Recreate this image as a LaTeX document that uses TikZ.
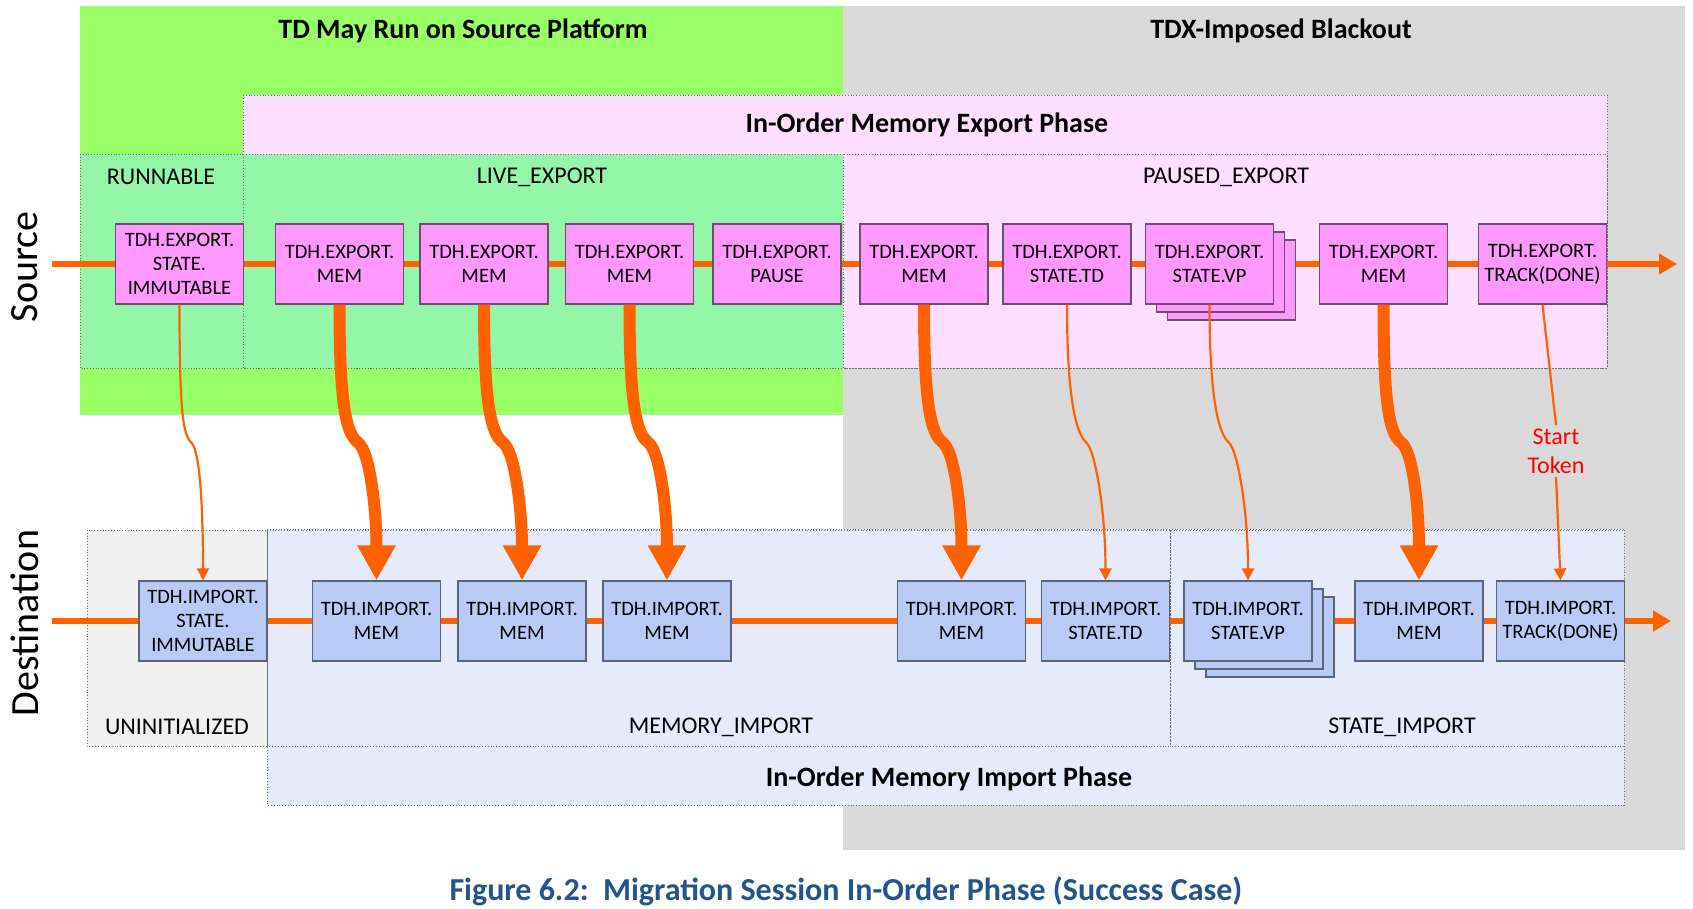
\documentclass[tikz,border=0pt]{standalone}
\usepackage{fontspec}
\setmainfont{Carlito}
\usetikzlibrary{positioning,calc,arrows.meta,shadows}
\definecolor{rungreen}{HTML}{99FF66}
\definecolor{livegreen}{HTML}{93F6A9}
\definecolor{blackout}{HTML}{D9D9D9}
\definecolor{exppink}{HTML}{FFDFFF}
\definecolor{impblue}{HTML}{E5EBFA}
\definecolor{uninit}{HTML}{F0F0F0}
\definecolor{expfill}{HTML}{FF99FF}
\definecolor{expline}{HTML}{6E4E6E}
\definecolor{impfill}{HTML}{B9CBF5}
\definecolor{impline}{HTML}{5A6478}
\definecolor{flowc}{HTML}{FF6000}
\definecolor{capblue}{HTML}{24548F}
\pgfdeclarelayer{zones}
\pgfdeclarelayer{wires}
\pgfsetlayers{zones,wires,main}

\begin{document}
\begin{tikzpicture}[x=1pt,y=-1pt,
   zone/.style={draw=black!55,dotted,line width=0.8pt},
   expbox/.style={draw=expline,fill=expfill,line width=1.2pt,minimum width=128pt,minimum height=80pt,inner sep=0pt,align=center,font=\fontsize{20.5}{24}\selectfont},
   impbox/.style={expbox,draw=impline,fill=impfill},
   stack/.style={copy shadow={shadow xshift=22pt,shadow yshift=-16pt},copy shadow={shadow xshift=11pt,shadow yshift=-8pt}},
   flow/.style={draw=flowc,line width=6.5pt},
   hop/.style={draw=flowc,line width=2.2pt,-{Triangle[width=12pt,length=12pt]}},
   bighop/.style={draw=flowc,line width=12pt,-{Triangle[width=36pt,length=35pt]}},
   zonelabel/.style={font=\fontsize{24}{28}\selectfont},
   title/.style={font=\bfseries\fontsize{28}{32}\selectfont}]
 \useasboundingbox (0,0) rectangle (1693,909);
 % background zones
 \begin{pgfonlayer}{zones}
  \fill[rungreen] (80,6) rectangle (843,415);
  \fill[blackout] (843,6) rectangle (1685,850);
  \filldraw[fill=exppink,zone] (243,95) rectangle (1607,368);
  \filldraw[fill=livegreen,zone] (80,154) rectangle (243,368);
  \filldraw[fill=livegreen,zone] (243,154) rectangle (843,368);
  \filldraw[fill=exppink,zone] (843,154) rectangle (1607,368);
  \filldraw[fill=impblue,zone] (267,529) rectangle (1624,805);
  \filldraw[fill=uninit,zone] (87,530) rectangle (267,746);
  \draw[zone] (267,530) rectangle (1170,746);
  \draw[zone] (1170,530) rectangle (1624,746);
 \end{pgfonlayer}
 \node[title] (runtitle) at (463,31) {TD May Run on Source Platform};
 \node[title] (blacktitle) at (1281,31) {TDX-Imposed Blackout};
 \node[title] (exptitle) at (927,125) {In-Order Memory Export Phase};
 \node[title] (imptitle) at (949,779) {In-Order Memory Import Phase};
 \node[zonelabel] (runl) at (161,177) {RUNNABLE};
 \node[zonelabel] (livel) at (542,177) {LIVE\_EXPORT};
 \node[zonelabel] (pausel) at (1226,177) {PAUSED\_EXPORT};
 \node[zonelabel] (uninitl) at (177,727) {UNINITIALIZED};
 \node[zonelabel] (meml) at (721,727) {MEMORY\_IMPORT};
 \node[zonelabel] (statel) at (1402,727) {STATE\_IMPORT};
 \node[rotate=90,font=\fontsize{40}{44}\selectfont] (srcl) at (25,267) {Source};
 \node[rotate=90,font=\fontsize{40}{44}\selectfont] (dstl) at (25,623) {Destination};
 % export and import calls
 \foreach \n/\x/\s/\t in {1/179.5//{TDH.EXPORT.\\STATE.\\IMMUTABLE},2/339.5//{TDH.EXPORT.\\MEM},
   3/484//{TDH.EXPORT.\\MEM},4/629.5//{TDH.EXPORT.\\MEM},5/777//{TDH.EXPORT.\\PAUSE},
   6/924//{TDH.EXPORT.\\MEM},7/1067//{TDH.EXPORT.\\STATE.TD},8/1209.5/stack/{TDH.EXPORT.\\STATE.VP},
   9/1383.5//{TDH.EXPORT.\\MEM},10/1542.5//{TDH.EXPORT.\\TRACK(DONE)}}
  \node[expbox,\s] (e\n) at (\x,264) {\t};
 \foreach \n/\x/\s/\t in {1/203//{TDH.IMPORT.\\STATE.\\IMMUTABLE},2/376.5//{TDH.IMPORT.\\MEM},
   3/522//{TDH.IMPORT.\\MEM},4/667//{TDH.IMPORT.\\MEM},5/961.5//{TDH.IMPORT.\\MEM},
   6/1105.5//{TDH.IMPORT.\\STATE.TD},7/1248/stack/{TDH.IMPORT.\\STATE.VP},
   8/1419//{TDH.IMPORT.\\MEM},9/1560.5//{TDH.IMPORT.\\TRACK(DONE)}}
  \node[impbox,\s] (i\n) at (\x,621) {\t};
 \coordinate (sin) at (52,264);
 \coordinate (sout) at (1677,264);
 \coordinate (din) at (52,621);
 \coordinate (dout) at (1671,621);
 % main flow lines
 \begin{pgfonlayer}{wires}
  \draw[flow] (sin) -- (e1) -- (e2) -- (e3) -- (e4) -- (e5) -- (e6) -- (e7) -- (e8) -- (e9) -- (e10);
  \draw[flow,-{Triangle[width=20pt,length=18pt]}] (e10) -- (sout);
  \draw[flow] (din) -- (i1) -- (i2) -- (i3) -- (i4) -- (i5) -- (i6) -- (i7) -- (i8) -- (i9);
  \draw[flow,-{Triangle[width=20pt,length=18pt]}] (i9) -- (dout);
 \end{pgfonlayer}
 % memory pages
 \foreach \a/\b in {e2/i2,e3/i3,e4/i4,e6/i5,e9/i8}
  \draw[bighop] (\a.south) .. controls +(0,100) and +(-12,-9) .. ($(\a.south)!.5!(\b.north)$)
    .. controls +(12,9) and +(0,-70) .. (\b.north);
 % state
 \foreach \a/\b in {e1/i1,e7/i6,e8/i7}
  \draw[hop] (\a.south) .. controls +(0,100) and +(-9,-8) .. ($(\a.south)!.5!(\b.north)$)
    .. controls +(9,8) and +(0,-70) .. (\b.north);
 \node[red,align=center,font=\fontsize{24}{29}\selectfont] (tok) at (1556,451) {Start\\Token};
 \draw[hop,-] (e10.south) -- (tok.north);
 \draw[hop] (tok.south) -- (i9.north);
 \node[capblue,font=\bfseries\fontsize{32}{36}\selectfont] (cap) at (846,891) {Figure 6.2:\ \ Migration Session In-Order Phase (Success Case)};
\end{tikzpicture}
\end{document}
